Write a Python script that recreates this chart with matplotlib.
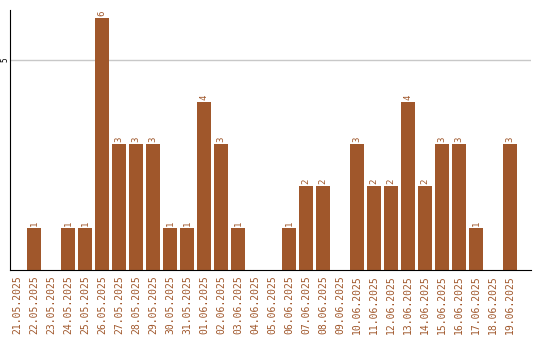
import matplotlib
matplotlib.use("Agg")
import matplotlib.pyplot as plt

# dates and counts
dates = ["21.05.2025", "22.05.2025", "23.05.2025", "24.05.2025", "25.05.2025",
         "26.05.2025", "27.05.2025", "28.05.2025", "29.05.2025", "30.05.2025",
         "31.05.2025", "01.06.2025", "02.06.2025", "03.06.2025", "04.06.2025",
         "05.06.2025", "06.06.2025", "07.06.2025", "08.06.2025", "09.06.2025",
         "10.06.2025", "11.06.2025", "12.06.2025", "13.06.2025", "14.06.2025",
         "15.06.2025", "16.06.2025", "17.06.2025", "18.06.2025", "19.06.2025"]
counts = [0, 1, 0, 1, 1, 6, 3, 3, 3, 1,
          1, 4, 3, 1, 0, 0, 1, 2, 2, 0,
          3, 2, 2, 4, 2, 3, 3, 1, 0, 3]

brown = "#a0572b"

fig = plt.figure(figsize=(5.4, 3.4), dpi=100)
ax = fig.add_axes([10/540, 70/340, 521/540, 260/340])

x = list(range(len(dates)))
bars = ax.bar(x, counts, width=0.82, color=brown, zorder=2)

# value labels above non-empty bars
for xi, c in zip(x, counts):
    if c > 0:
        ax.annotate(str(c), (xi, c), xytext=(0, 1.5), textcoords="offset points",
                    rotation=90, ha="center", va="bottom", fontsize=6.5,
                    family="DejaVu Sans Mono", color=brown)

ax.set_xlim(-0.41, 30.24)
ax.set_ylim(0, 6.19)
ax.set_yticks([5])
ax.set_yticklabels(["5"], rotation=90, va="center", fontsize=5.5, family="DejaVu Sans Mono")
ax.axhline(5, color="#c8c8c8", lw=1, zorder=1)

ax.set_xticks(x)
ax.set_xticklabels(dates, rotation=90, fontsize=7, family="DejaVu Sans Mono", color=brown)
ax.tick_params(axis="both", length=0, pad=4)
ax.tick_params(axis="y", pad=0.5)

for s in ["top", "right"]:
    ax.spines[s].set_visible(False)
ax.spines["left"].set_color("black")
ax.spines["bottom"].set_color("black")

fig.savefig("out.png", dpi=100)
